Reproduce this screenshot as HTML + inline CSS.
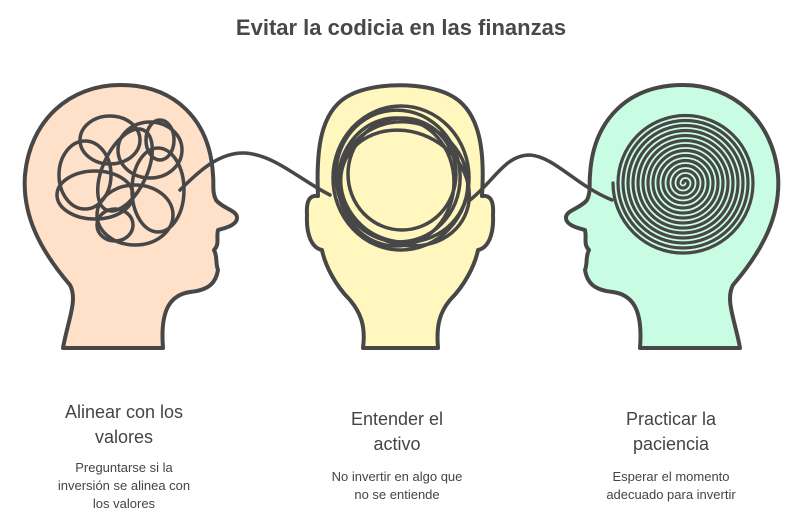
<!DOCTYPE html>
<html><head><meta charset="utf-8"><style>
body{margin:0;background:#fff;width:802px;height:528px;overflow:hidden;font-family:"Liberation Sans",sans-serif;color:#444}
svg{position:absolute;left:0;top:0}
</style></head><body>
<svg width="802" height="528" viewBox="0 0 802 528">
<text x="401" y="35" text-anchor="middle" font-size="22" font-weight="bold" fill="#484848">Evitar la codicia en las finanzas</text>
<g stroke="#474747" stroke-width="4" stroke-linejoin="round" stroke-linecap="round">
<path d="M63,348 C68,320 78,300 70,285 C40,250 22,215 25,175 C30,120 70,85 120,85 C175,85 210,120 213,175 C214,185 212,192 216,200 C222,208 236,210 237,217 C238,225 225,228 218,230 C216,238 220,244 214,250 C218,258 215,262 218,270 C216,282 210,290 190,292 C170,295 160,310 163,348 Z" fill="#ffe0c9"/>
<path transform="translate(803,0) scale(-1,1)" d="M63,348 C68,320 78,300 70,285 C40,250 22,215 25,175 C30,120 70,85 120,85 C175,85 210,120 213,175 C214,185 212,192 216,200 C222,208 236,210 237,217 C238,225 225,228 218,230 C216,238 220,244 214,250 C218,258 215,262 218,270 C216,282 210,290 190,292 C170,295 160,310 163,348 Z" fill="#c8fde3"/>
<path d="M363,348 C366,325 360,312 350,300 C335,285 325,265 322,250 C312,248 306,235 307,215 C306,200 310,195 318,196 C316,150 320,110 350,95 C375,82 425,82 450,95 C480,110 485,150 482,196 C490,195 494,200 493,215 C494,235 488,248 478,250 C475,265 465,285 450,300 C440,312 436,325 438,348 Z" fill="#fff7bd"/>
</g>
<g fill="none" stroke="#474747" stroke-width="3.5" stroke-linecap="round">
<ellipse cx="110" cy="140" rx="30" ry="24"/>
<ellipse cx="150" cy="150" rx="32" ry="28"/>
<ellipse cx="95" cy="195" rx="38" ry="24"/>
<ellipse cx="135" cy="215" rx="38" ry="30"/>
<ellipse cx="125" cy="170" rx="22" ry="44" transform="rotate(25 125 170)"/>
<ellipse cx="85" cy="175" rx="26" ry="34"/>
<ellipse cx="158" cy="190" rx="26" ry="42"/>
<ellipse cx="160" cy="140" rx="14" ry="20"/>
<ellipse cx="115" cy="225" rx="18" ry="16"/>
<ellipse cx="401" cy="178" rx="68" ry="72"/>
<ellipse cx="398" cy="176" rx="62" ry="66" transform="rotate(-10 398 176)"/>
<ellipse cx="404" cy="182" rx="64" ry="60" transform="rotate(15 404 182)"/>
<ellipse cx="396" cy="182" rx="58" ry="64"/>
<ellipse cx="402" cy="174" rx="54" ry="56"/>
<ellipse cx="405" cy="188" rx="66" ry="56" transform="rotate(25 405 188)"/>
<path d="M180,190 C200,170 220,152 245,153 C275,155 300,180 330,195 M470,200 C495,180 505,155 530,155 C555,157 575,185 612,200"/>
<path stroke-width="3.2" d="M683,183 A2.5,2.5 0 0 1 688,183 A5,5 0 0 1 678,183 A7.5,7.5 0 0 1 693,183 A10,10 0 0 1 673,183 A12.5,12.5 0 0 1 698,183 A15,15 0 0 1 668,183 A17.5,17.5 0 0 1 703,183 A20,20 0 0 1 663,183 A22.5,22.5 0 0 1 708,183 A25,25 0 0 1 658,183 A27.5,27.5 0 0 1 713,183 A30,30 0 0 1 653,183 A32.5,32.5 0 0 1 718,183 A35,35 0 0 1 648,183 A37.5,37.5 0 0 1 723,183 A40,40 0 0 1 643,183 A42.5,42.5 0 0 1 728,183 A45,45 0 0 1 638,183 A47.5,47.5 0 0 1 733,183 A50,50 0 0 1 633,183 A52.5,52.5 0 0 1 738,183 A55,55 0 0 1 628,183 A57.5,57.5 0 0 1 743,183 A60,60 0 0 1 623,183 A62.5,62.5 0 0 1 748,183 A65,65 0 0 1 618,183 A67.5,67.5 0 0 1 753,183 A70,70 0 0 1 613,183"/>
</g>
<g text-anchor="middle" fill="#444">
<text x="124" y="418" font-size="18">Alinear con los</text>
<text x="124" y="443" font-size="18">valores</text>
<text x="124" y="472" font-size="13">Preguntarse si la</text>
<text x="124" y="490" font-size="13">inversión se alinea con</text>
<text x="124" y="508" font-size="13">los valores</text>
<text x="397" y="425" font-size="18">Entender el</text>
<text x="397" y="450" font-size="18">activo</text>
<text x="397" y="481" font-size="13">No invertir en algo que</text>
<text x="397" y="499" font-size="13">no se entiende</text>
<text x="671" y="425" font-size="18">Practicar la</text>
<text x="671" y="450" font-size="18">paciencia</text>
<text x="671" y="481" font-size="13">Esperar el momento</text>
<text x="671" y="499" font-size="13">adecuado para invertir</text>
</g>
</svg>
</body></html>
